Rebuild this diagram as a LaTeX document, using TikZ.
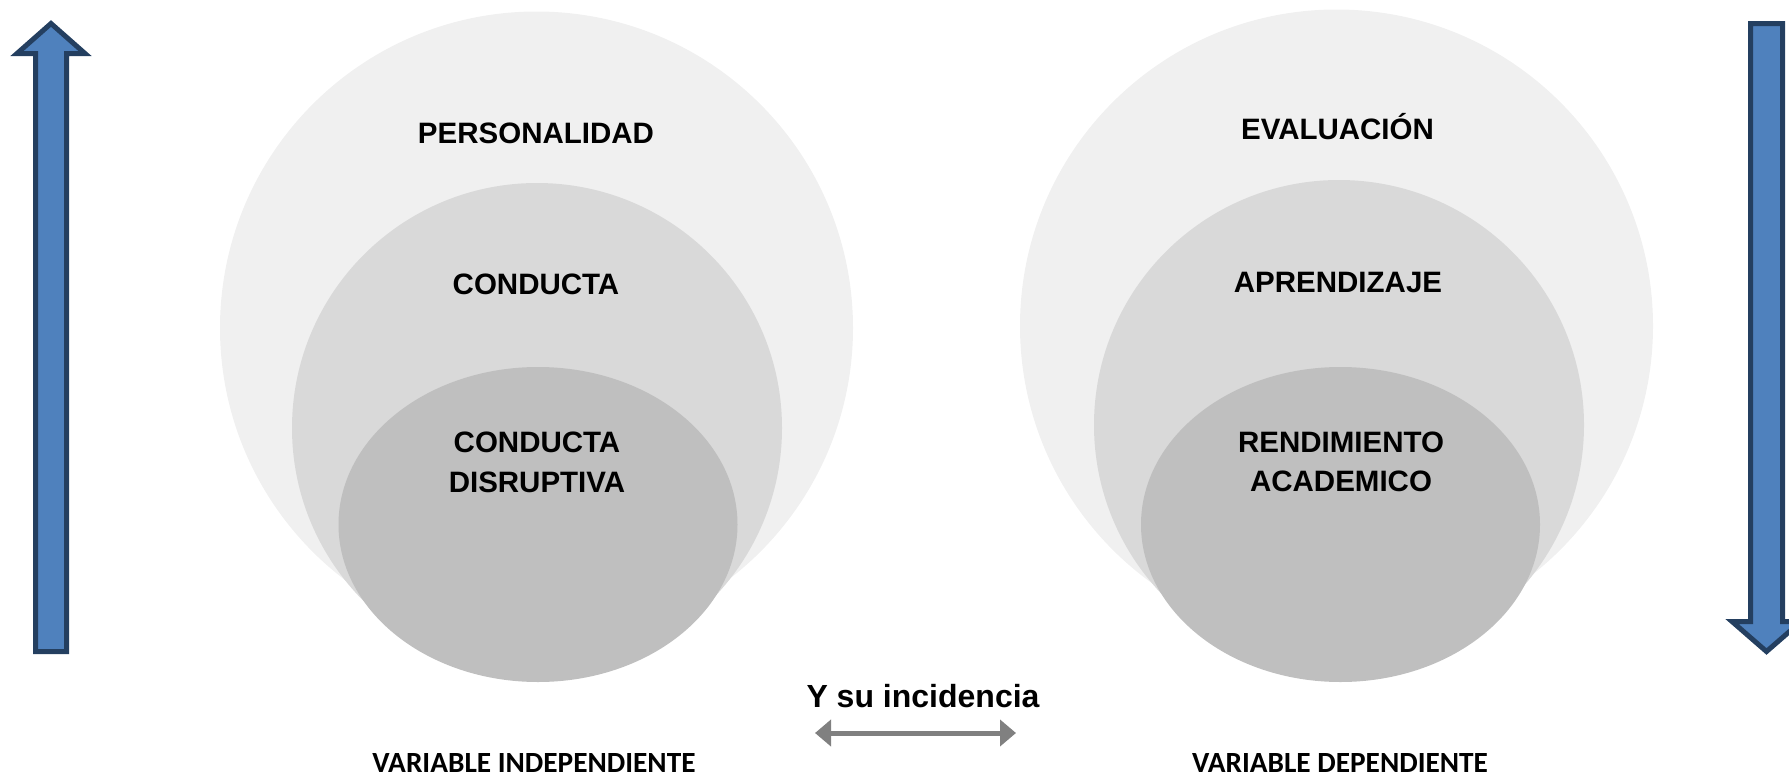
\documentclass[tikz,border=0pt]{standalone}
\usepackage{fontspec}
\setmainfont{Liberation Sans}
\newfontfamily\calib{Carlito}
\usetikzlibrary{shapes.geometric,arrows.meta}
\definecolor{cOuter}{HTML}{F0F0F0}
\definecolor{cMid}{HTML}{D9D9D9}
\definecolor{cIn}{HTML}{BFBFBF}
\definecolor{bluefill}{HTML}{4F81BD}
\definecolor{blueline}{HTML}{243F60}
\definecolor{grayarrow}{HTML}{808080}
\tikzset{
  outerc/.style={circle,fill=cOuter,inner sep=0pt,minimum size=633pt},
  midc/.style={circle,fill=cMid,inner sep=0pt,minimum size=490pt},
  inell/.style={ellipse,fill=cIn,inner sep=0pt,minimum width=399pt,minimum height=315pt},
  lbl/.style={anchor=base,font=\bfseries\fontsize{29.5}{35}\selectfont,inner sep=0pt},
  varlbl/.style={anchor=base,inner sep=0pt,font=\calib\bfseries\fontsize{29.3}{34}\selectfont},
  bigarrow/.style={fill=bluefill,draw=blueline,line width=5pt,line join=miter},
}
\begin{document}
\begin{tikzpicture}[x=1pt,y=-1pt]
\useasboundingbox (0,0) rectangle (1789,777);
\clip (0,0) rectangle (1789,777);
% left group
\node[outerc] (pers) at (536.5,328) {};
\node[midc] (cond) at (537,428) {};
\node[inell] (disr) at (538,524.5) {};
\node[lbl] (tpers) at (536,143) {PERSONALIDAD};
\node[lbl] (tcond) at (536,294) {CONDUCTA};
\node[lbl] (tdisr1) at (537,452) {CONDUCTA};
\node[lbl] (tdisr2) at (537,492) {DISRUPTIVA};
% right group
\node[outerc] (eval) at (1336.5,326) {};
\node[midc] (apre) at (1339,425) {};
\node[inell] (rend) at (1340.5,524.5) {};
\node[lbl] (teval) at (1337.5,139) {EVALUACIÓN};
\node[lbl] (tapre) at (1338,292) {APRENDIZAJE};
\node[lbl] (trend1) at (1341,452) {RENDIMIENTO};
\node[lbl] (trend2) at (1341,491) {ACADEMICO};
% middle
\node[anchor=base,inner sep=0pt,font=\bfseries\fontsize{32}{38}\selectfont] (inc) at (923,707) {Y su incidencia};
\coordinate (ga) at (815,733);
\coordinate (gb) at (1016,733);
\draw[grayarrow,line width=5pt,{Triangle[length=16pt,width=26pt]}-{Triangle[length=16pt,width=26pt]}] (ga) -- (gb);
% variable labels
\node[varlbl] (vind) at (534,772) {VARIABLE INDEPENDIENTE};
\node[varlbl] (vdep) at (1340,772) {VARIABLE DEPENDIENTE};
% blue arrows
\draw[bigarrow] (51,23.5) -- (85,53.5) -- (66.5,53.5) -- (66.5,651.5) -- (35.5,651.5) -- (35.5,53.5) -- (17,53.5) -- cycle;
\draw[bigarrow] (1766.5,651.5) -- (1732,621.5) -- (1750.5,621.5) -- (1750.5,23.5) -- (1782.5,23.5) -- (1782.5,621.5) -- (1801,621.5) -- cycle;
\end{tikzpicture}
\end{document}
